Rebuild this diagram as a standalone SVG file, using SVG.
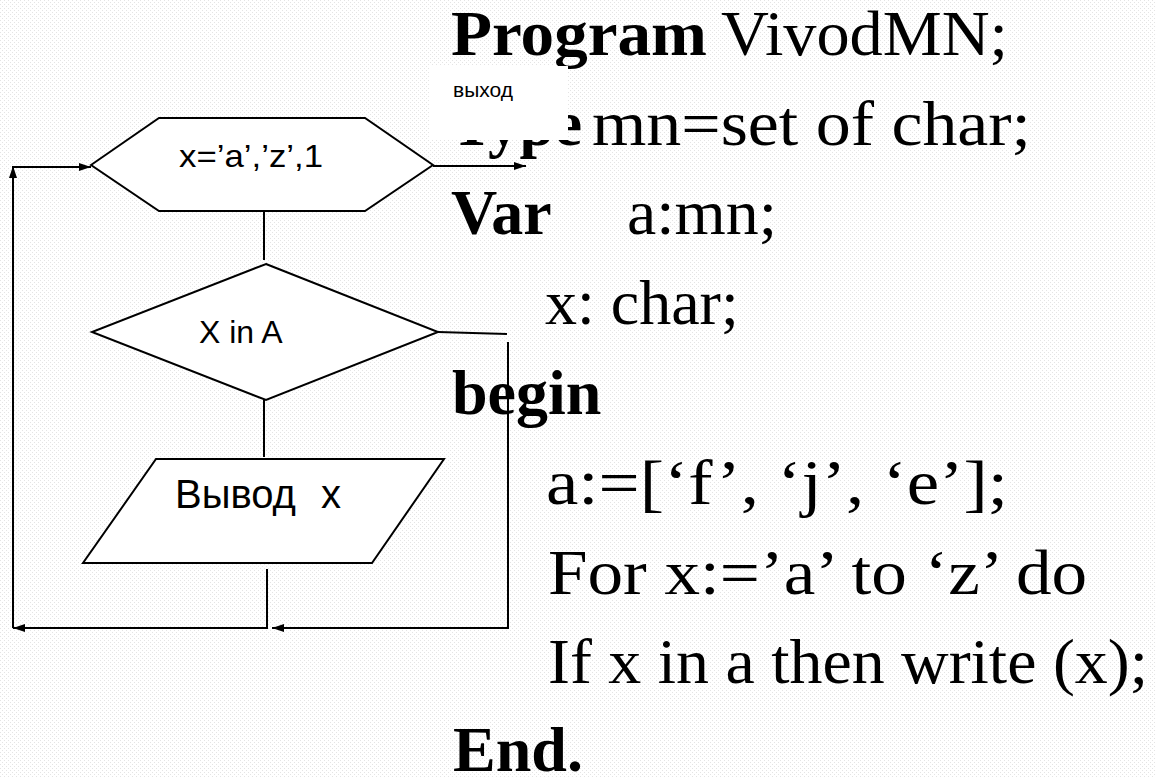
<svg xmlns="http://www.w3.org/2000/svg" width="1156" height="778" viewBox="0 0 1156 778">
<style>
.shape{fill:#ffffff;stroke:#000000;stroke-width:2}
.conn{fill:none;stroke:#000000;stroke-width:2}
.arr{marker-end:url(#ah)}
.code{font-family:"Liberation Serif","Times New Roman",serif;font-size:64px;fill:#000000}
.kw{font-weight:bold}
.lbl{font-family:"Liberation Sans",Arial,sans-serif;fill:#000000}
</style>
<defs>
<pattern id="dots" width="4" height="4" patternUnits="userSpaceOnUse">
<rect x="0" y="0" width="1" height="1" fill="#e4e4e4"/>
<rect x="2" y="2" width="1" height="1" fill="#e4e4e4"/>
</pattern>
<marker id="ah" markerUnits="userSpaceOnUse" markerWidth="13" markerHeight="9" refX="12" refY="4" orient="auto">
<path d="M0,0 L12,4 L0,8 z" fill="#000000"/>
</marker>
</defs>
<rect x="0" y="0" width="1156" height="778" fill="#ffffff"/>
<rect x="0" y="0" width="1156" height="778" fill="url(#dots)"/>

<g id="code" class="code">
<text x="451" y="55" class="kw" textLength="256" lengthAdjust="spacingAndGlyphs">Program</text>
<text x="721" y="55" textLength="287" lengthAdjust="spacingAndGlyphs">VivodMN;</text>
<text x="451" y="145" class="kw" textLength="131" lengthAdjust="spacingAndGlyphs">Type</text>
<text x="592" y="145" textLength="439" lengthAdjust="spacingAndGlyphs">mn=set of char;</text>
<text x="451" y="234" class="kw">Var</text>
<text x="627" y="234" textLength="150" lengthAdjust="spacingAndGlyphs">a:mn;</text>
<text x="545" y="324">x: char;</text>
<text x="452" y="414" class="kw">begin</text>
<text x="546" y="504" textLength="462" lengthAdjust="spacingAndGlyphs">a:=[‘f’, ‘j’, ‘e’];</text>
<text x="548" y="594" textLength="539" lengthAdjust="spacingAndGlyphs">For x:=’a’ to ‘z’ do</text>
<text x="548" y="683" textLength="600" lengthAdjust="spacingAndGlyphs">If x in a then write (x);</text>
<text x="453" y="771" class="kw">End.</text>
</g>

<g id="exit-label">
<rect x="430" y="66" width="138" height="74" fill="#ffffff"/>
<text class="lbl" x="453" y="97" font-size="21">выход</text>
</g>

<g id="connectors">
<line class="conn arr" x1="433" y1="166" x2="526" y2="166"/>
<line class="conn" x1="264" y1="211" x2="264" y2="260"/>
<line class="conn" x1="264" y1="400" x2="264" y2="457"/>
<polyline class="conn arr" points="267,569 267,628 13,628"/>
<line class="conn arr" x1="13" y1="628" x2="13" y2="166"/>
<line class="conn arr" x1="13" y1="167" x2="91" y2="167"/>
<line class="conn" x1="438" y1="332" x2="507" y2="334"/>
<polyline class="conn arr" points="508,342 508,628 272,628"/>
</g>

<g id="node-loop">
<polygon class="shape" points="91,165 159,118 365,118 433,165 365,211 159,211"/>
<text class="lbl" x="179" y="167" font-size="32" textLength="144" lengthAdjust="spacingAndGlyphs">x=’a’,’z’,1</text>
</g>

<g id="node-condition">
<polygon class="shape" points="266,264 438,332 266,400 92,332"/>
<text class="lbl" x="199" y="343" font-size="32">X in A</text>
</g>

<g id="node-output">
<polygon class="shape" points="156,459 444,459 372,563 83,563"/>
<text class="lbl" x="175" y="508" font-size="40">Вывод<tspan x="321">x</tspan></text>
</g>
</svg>
